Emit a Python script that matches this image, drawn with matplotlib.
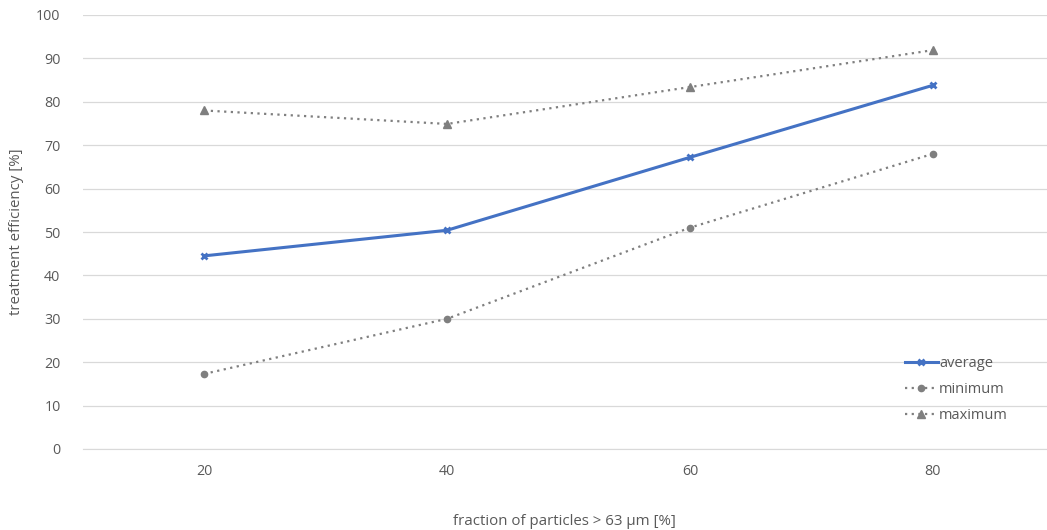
import matplotlib
matplotlib.use("Agg")
import matplotlib.pyplot as plt

categories = ["20", "40", "60", "80"]
average = [44.5, 50.4, 67.2, 83.8]
minimum = [17.3, 30.0, 51.0, 68.0]
maximum = [78.0, 74.9, 83.4, 91.9]
y_ticks = [0, 10, 20, 30, 40, 50, 60, 70, 80, 90, 100]

plt.rcParams["font.family"] = ["Open Sans", "DejaVu Sans"]
text_gray = "#595959"

fig = plt.figure(figsize=(10.47, 5.30), dpi=100)
ax = fig.add_axes([82.7 / 1047, 81 / 530, (1047 - 82.7) / 1047, 434 / 530])

x = list(range(len(categories)))
ax.plot(x, average, color="#4472C4", lw=2.2, marker="x", ms=5, mew=2.0,
        label="average", zorder=3)
ax.plot(x, minimum, color="#7F7F7F", lw=1.6, ls=(0, (1, 2)), marker="o", ms=4.5,
        label="minimum", zorder=3)
ax.plot(x, maximum, color="#7F7F7F", lw=1.6, ls=(0, (1, 2)), marker="^", ms=5.5,
        label="maximum", zorder=3)

ax.set_xlim(-0.5, 3.47)
ax.set_ylim(0, 100)
ax.set_xticks(x)
ax.set_xticklabels(categories)
ax.set_yticks(y_ticks)
ax.yaxis.grid(True, color="#D9D9D9", lw=0.9)
ax.set_axisbelow(True)
for side in ["top", "right", "left"]:
    ax.spines[side].set_visible(False)
ax.spines["bottom"].set_color("#D9D9D9")
ax.tick_params(axis="both", length=0, labelsize=10.3, colors=text_gray)
ax.tick_params(axis="x", pad=11)
ax.tick_params(axis="y", pad=16)

ax.set_xlabel("fraction of particles > 63 µm [%]", fontsize=10.8, color=text_gray,
              labelpad=25)
ax.set_ylabel("treatment efficiency [%]", fontsize=10.8, color=text_gray, labelpad=9)

leg = ax.legend(loc="lower right", bbox_to_anchor=(0.973, 0.03), frameon=False,
                fontsize=10.5, handlelength=2.3, handletextpad=0.05, labelspacing=0.75,
                labelcolor=text_gray)

fig.savefig("out.png", dpi=100)
